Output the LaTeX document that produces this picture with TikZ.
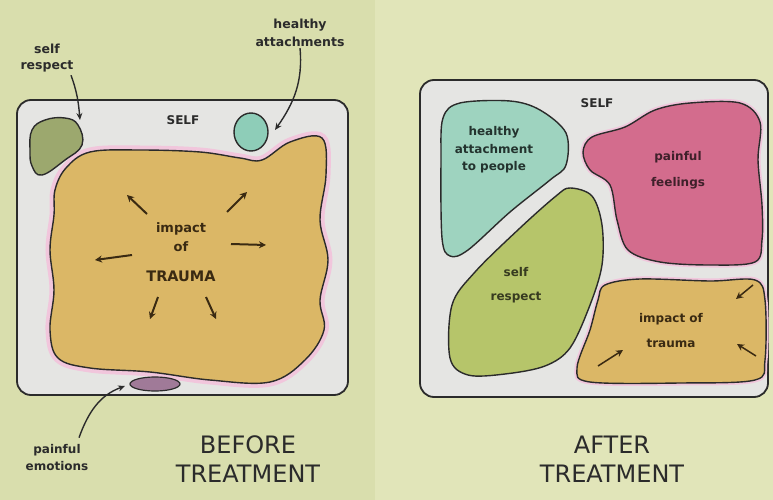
\documentclass[tikz,border=0pt]{standalone}
\usepackage{fontspec}
\setmainfont{DejaVu Sans}
\usetikzlibrary{arrows.meta}
\definecolor{bg}{HTML}{D9DEAD}
\definecolor{bgl}{HTML}{E1E5B9}
\definecolor{boxfill}{HTML}{E5E5E3}
\definecolor{ink}{HTML}{2B2B2B}
\definecolor{orng}{HTML}{DBB766}
\definecolor{halo}{HTML}{F1C6DC}
\definecolor{teal}{HTML}{8ECDB8}
\definecolor{tealr}{HTML}{9ED3BF}
\definecolor{olive}{HTML}{9CA86E}
\definecolor{lime}{HTML}{B6C56A}
\definecolor{rose}{HTML}{D36C8D}
\definecolor{plum}{HTML}{A07A98}
\definecolor{brownink}{HTML}{3A2A12}
\tikzset{
  selfbox/.style={draw=ink, line width=1.8pt, fill=boxfill, rounded corners=14pt},
  blob/.style={draw=ink, line width=1.4pt},
  haloline/.style={draw=halo, line width=9pt},
  lbl/.style={text=ink, font=\bfseries\fontsize{12}{13}\selectfont, align=center, inner sep=1pt},
  inlbl/.style={text=brownink, font=\bfseries\fontsize{12}{13}\selectfont, align=center, inner sep=1pt},
  title/.style={text=ink, font=\fontsize{24}{29}\selectfont, align=center, inner sep=1pt},
  leader/.style={draw=ink, line width=1.4pt, -{Stealth[length=7pt,width=6pt]}},
  burst/.style={draw=brownink, line width=2pt, -{Stealth[length=7pt,width=7pt]}}
}
\begin{document}
\begin{tikzpicture}[x=1pt,y=-1pt]
\useasboundingbox (0,0) rectangle (773,500);
\fill[bg] (0,0) rectangle (773,500);
\fill[bgl] (375,0) rectangle (773,500);

% ---------------- BEFORE ----------------
\draw[selfbox] (17,100) rectangle (348,395);
% big trauma blob
\def\traumapath{plot[smooth cycle, tension=0.6] coordinates {(55,190) (66,168) (90,152) (140,150) (200,152) (240,158) (262,160) (290,142) (322,138) (326,175) (320,220) (328,260) (320,300) (324,330) (305,360) (270,382) (210,380) (150,372) (90,368) (58,358) (50,330) (54,290) (50,250) (54,215)}}
\draw[haloline] \traumapath;
\fill[orng] \traumapath;
\draw[blob] \traumapath;
% green self respect blob
\filldraw[blob, fill=olive] plot[smooth cycle, tension=0.7] coordinates {(32,130) (45,120) (65,118) (78,125) (82,145) (65,160) (42,175) (32,166) (30,150)};
% teal attachments blob
\filldraw[blob, fill=teal] (251,132) ellipse [x radius=17pt, y radius=19pt];
% purple painful emotions
\filldraw[draw=ink, line width=1.2pt, fill=plum] (155,384) ellipse [x radius=25pt, y radius=7pt];

\node[lbl] (selfL) at (183,120) {SELF};
\node[inlbl, font=\bfseries\fontsize{13}{19}\selectfont] (impL) at (181,237) {impact\\of};
\node[text=brownink, font=\bfseries\fontsize{14.5}{16}\selectfont, inner sep=1pt] (traumaL) at (181,276) {TRAUMA};

\coordinate (a1t) at (147,214); \coordinate (a1h) at (127,195);
\coordinate (a2t) at (227,212); \coordinate (a2h) at (247,192);
\coordinate (a3t) at (231,244); \coordinate (a3h) at (266,245);
\coordinate (a4t) at (132,255); \coordinate (a4h) at (95,260);
\coordinate (a5t) at (158,297); \coordinate (a5h) at (150,319);
\coordinate (a6t) at (206,297); \coordinate (a6h) at (216,319);
\draw[burst] (a1t) -- (a1h);
\draw[burst] (a2t) -- (a2h);
\draw[burst] (a3t) -- (a3h);
\draw[burst] (a4t) -- (a4h);
\draw[burst] (a5t) -- (a5h);
\draw[burst] (a6t) -- (a6h);

\node[lbl, font=\bfseries\fontsize{12.5}{16}\selectfont] (srL) at (47,58) {self\\respect};
\coordinate (srT) at (80,120);
\draw[leader] (srL.south) ++(24,2) coordinate (srS) (srS) to[out=-70,in=95] (srT);

\node[lbl, font=\bfseries\fontsize{12.5}{18}\selectfont] (haL) at (300,33) {healthy\\attachments};
\coordinate (haT) at (275,130);
\draw[leader] (haL.south) to[out=-85,in=55] (haT);

\node[lbl, font=\bfseries\fontsize{12}{17}\selectfont] (peL) at (57,458) {painful\\emotions};
\coordinate (peT) at (125,386);
\draw[leader] (peL.north) ++(22,-6) coordinate (peS) (peS) to[out=70,in=200] (peT);

\node[title] (before) at (248,459) {BEFORE\\TREATMENT};

% ---------------- AFTER ----------------
\draw[selfbox] (420,80) rectangle (768,397);
\node[lbl] (selfR) at (597,103) {SELF};

% teal
\filldraw[blob, fill=tealr] plot[smooth cycle, tension=0.55] coordinates {(443,118) (460,103) (510,101) (540,110) (566,133) (566,165) (550,180) (510,212) (468,250) (450,256) (442,238) (441,160)};
% lime
\filldraw[blob, fill=lime] plot[smooth cycle, tension=0.55] coordinates {(570,188) (592,196) (602,225) (602,265) (590,305) (570,348) (545,366) (505,374) (468,375) (450,358) (452,305) (475,272) (520,228) (556,196)};
% rose
\def\rosepath{plot[smooth cycle, tension=0.55] coordinates {(583,152) (592,137) (625,127) (655,110) (690,103) (740,103) (760,122) (758,160) (762,205) (762,240) (755,262) (710,265) (660,262) (628,250) (617,220) (610,185) (590,170)}}
\draw[draw=halo, line width=5pt] \rosepath;
\fill[rose] \rosepath;
\draw[blob] \rosepath;
% orange
\def\orpath{plot[smooth cycle, tension=0.55] coordinates {(605,285) (640,279) (710,281) (755,280) (765,300) (765,360) (755,380) (680,383) (590,382) (577,368) (590,330) (598,300)}}
\draw[draw=halo, line width=5pt] \orpath;
\fill[orng] \orpath;
\draw[blob] \orpath;

\node[inlbl, text=black!75!teal, font=\bfseries\fontsize{12}{17.5}\selectfont] (haR) at (494,150) {healthy\\attachment\\to people};
\node[inlbl, text=black!70!rose, font=\bfseries\fontsize{12}{26}\selectfont] (pfR) at (678,170) {painful\\feelings};
\node[inlbl, text=black!70!lime, font=\bfseries\fontsize{12}{24}\selectfont] (srR) at (516,285) {self\\respect};
\node[inlbl, font=\bfseries\fontsize{12}{25}\selectfont] (itR) at (671,331) {impact of\\trauma};

\coordinate (b1t) at (598,366); \coordinate (b1h) at (623,350);
\coordinate (b2t) at (753,285); \coordinate (b2h) at (736,299);
\coordinate (b3t) at (756,356); \coordinate (b3h) at (737,344);
\draw[burst, line width=1.5pt] (b1t) -- (b1h);
\draw[burst, line width=1.5pt] (b2t) -- (b2h);
\draw[burst, line width=1.5pt] (b3t) -- (b3h);

\node[title] (after) at (612,459) {AFTER\\TREATMENT};
\end{tikzpicture}
\end{document}
